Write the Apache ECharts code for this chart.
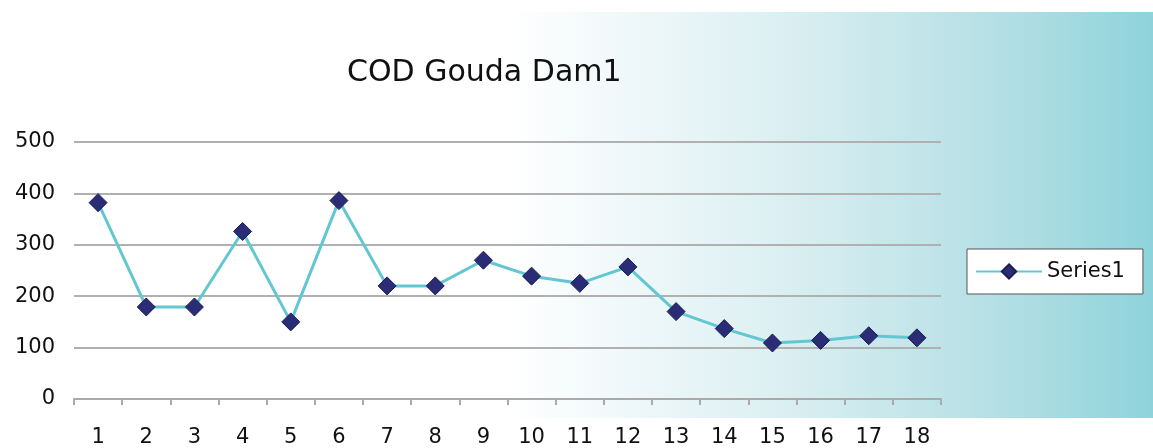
<!DOCTYPE html>
<html>
<head>
<meta charset="utf-8">
<script src="https://cdn.jsdelivr.net/npm/echarts@6/dist/echarts.min.js"></script>
<style>
html,body{margin:0;padding:0;background:#fff;}
#chart{width:1153px;height:448px;}
</style>
</head>
<body>
<div id="chart"></div>
<script>
const titleText = 'COD Gouda Dam1';
const categories = ['1','2','3','4','5','6','7','8','9','10','11','12','13','14','15','16','17','18'];
const seriesName = 'Series1';
const seriesValues = [382, 179, 179, 326, 150, 386, 220, 220, 270, 239, 225, 257, 170, 137, 109, 114, 123, 119];
const yTicks = { min: 0, max: 500, interval: 100 };

const FONT = '"DejaVu Sans", sans-serif';
const chart = echarts.init(document.getElementById('chart'), null, { renderer: 'canvas' });
chart.setOption({
  animation: false,
  backgroundColor: '#ffffff',
  graphic: [{
    type: 'rect',
    z: -10,
    silent: true,
    shape: { x: 0, y: 12, width: 1153, height: 406 },
    style: {
      fill: new echarts.graphic.LinearGradient(0, 0, 1, 0, [
        { offset: 0, color: '#ffffff' },
        { offset: 0.44, color: '#ffffff' },
        { offset: 0.68, color: '#dbeff2' },
        { offset: 0.87, color: '#b3dfe4' },
        { offset: 1, color: '#8ed3db' }
      ])
    }
  }],
  title: {
    text: titleText,
    left: 347,
    top: 58,
    padding: 0,
    textStyle: { fontFamily: FONT, fontSize: 30, fontWeight: 'normal', color: '#111' }
  },
  legend: {
    left: 967,
    top: 249,
    orient: 'vertical',
    backgroundColor: '#ffffff',
    borderColor: '#555555',
    borderWidth: 1,
    borderRadius: 0,
    padding: [12, 18, 12, 8],
    itemWidth: 66,
    itemHeight: 18,
    itemGap: 0,
    textStyle: { fontFamily: FONT, fontSize: 21, color: '#111' },
    data: [seriesName]
  },
  grid: { left: 74, right: 212, top: 142, bottom: 47, containLabel: false },
  xAxis: {
    type: 'category',
    data: categories,
    boundaryGap: true,
    axisLine: { show: true, lineStyle: { color: '#aaaaaa', width: 2 } },
    axisTick: { show: true, length: 6, lineStyle: { color: '#aaaaaa', width: 2 } },
    axisLabel: { margin: 28, fontFamily: FONT, fontSize: 21, color: '#111' },
    splitLine: { show: false }
  },
  yAxis: {
    type: 'value',
    min: yTicks.min,
    max: yTicks.max,
    interval: yTicks.interval,
    axisLine: { show: false },
    axisTick: { show: false },
    axisLabel: { margin: 19, fontFamily: FONT, fontSize: 21, color: '#111' },
    splitLine: { show: true, lineStyle: { color: '#b0b0b0', width: 2 } }
  },
  series: [{
    name: seriesName,
    type: 'line',
    data: seriesValues,
    symbol: 'diamond',
    symbolSize: 18,
    lineStyle: { color: '#62c7d0', width: 3 },
    itemStyle: { color: '#2a2c75', borderColor: '#1c1d55', borderWidth: 1 }
  }]
});
</script>
</body>
</html>
